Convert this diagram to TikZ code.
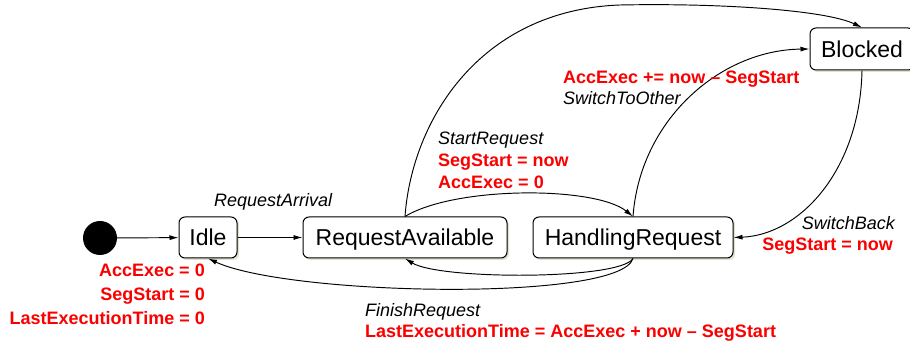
\documentclass[tikz,border=0pt]{standalone}
\usepackage{fontspec}
\setmainfont{Liberation Sans}
\usetikzlibrary{arrows.meta,shadows}
\definecolor{shadowc}{RGB}{228,224,208}
\definecolor{actred}{RGB}{250,0,0}
\tikzset{
  state/.style={draw, line width=1pt, rounded corners=6pt, fill=white,
    minimum height=41pt, inner sep=0pt, text height=17pt, text depth=0pt,
    font=\fontsize{23}{27}\selectfont,
    general shadow={fill=shadowc, shadow xshift=2pt, shadow yshift=-2pt}},
  trans/.style={line width=0.95pt, -{Latex[length=9pt,width=5pt]}},
  evt/.style={inner sep=0pt, font=\fontsize{18}{22}\selectfont\itshape},
  act/.style={inner sep=0pt, text=actred, font=\fontsize{18}{22}\selectfont\bfseries},
}
\begin{document}
\begin{tikzpicture}[x=1pt,y=-1pt]
\useasboundingbox (0,0) rectangle (910,344);

% states
\node[circle, fill=black, minimum size=34pt, inner sep=0pt] (init) at (100,238) {};
\node[state, minimum width=58pt]  (idle)    at (208,237.5) {Idle};
\node[state, minimum width=204pt] (avail)   at (405,237.5) {RequestAvailable};
\node[state, minimum width=200pt] (handle)  at (633,237.5) {HandlingRequest};
\node[state, minimum width=104pt, minimum height=42pt] (blocked) at (862,49) {Blocked};

% transitions
\draw[trans] (init) -- (idle);
\draw[trans] (idle) -- (avail);
\draw[trans] (avail.north) .. controls (455,186) and (595,186) .. (handle.north);
\draw[trans] (avail.north) .. controls (412,120) and (480,10) .. (620,5)
                           .. controls (720,3) and (825,10) .. (blocked.north);
\draw[trans] (handle.north) .. controls (640,120) and (720,50) .. (blocked.west);
\draw[trans] (blocked.south) .. controls (860,170) and (800,235) .. (handle.east);
\draw[trans] (handle.south) .. controls (620,280) and (440,280) .. (avail.south);
\draw[trans] (handle.south) .. controls (620,302) and (290,296) .. (idle.south);

% initial actions
\node[act, anchor=base east] (i1) at (205,277) {AccExec = 0};
\node[act, anchor=base east] (i2) at (205,301) {SegStart = 0};
\node[act, anchor=base east] (i3) at (205,325) {LastExecutionTime = 0};

% RequestArrival
\node[evt, anchor=base west] (ra) at (214,207) {RequestArrival};

% StartRequest
\node[evt, anchor=base west] (sr)  at (438,145) {StartRequest};
\node[act, anchor=base west] (sr1) at (438,167) {SegStart = now};
\node[act, anchor=base west] (sr2) at (438,189) {AccExec = 0};

% SwitchToOther
\node[act, anchor=base west] (so1) at (563,84)  {AccExec += now – SegStart};
\node[evt, anchor=base west] (so)  at (563,105) {SwitchToOther};

% SwitchBack
\node[evt, anchor=base east] (sb)  at (895,230) {SwitchBack};
\node[act, anchor=base east] (sb1) at (893,251) {SegStart = now};

% FinishRequest
\node[evt, anchor=base west] (fr)  at (365,317) {FinishRequest};
\node[act, anchor=base west] (fr1) at (365,338) {LastExecutionTime = AccExec + now – SegStart};
\end{tikzpicture}
\end{document}
